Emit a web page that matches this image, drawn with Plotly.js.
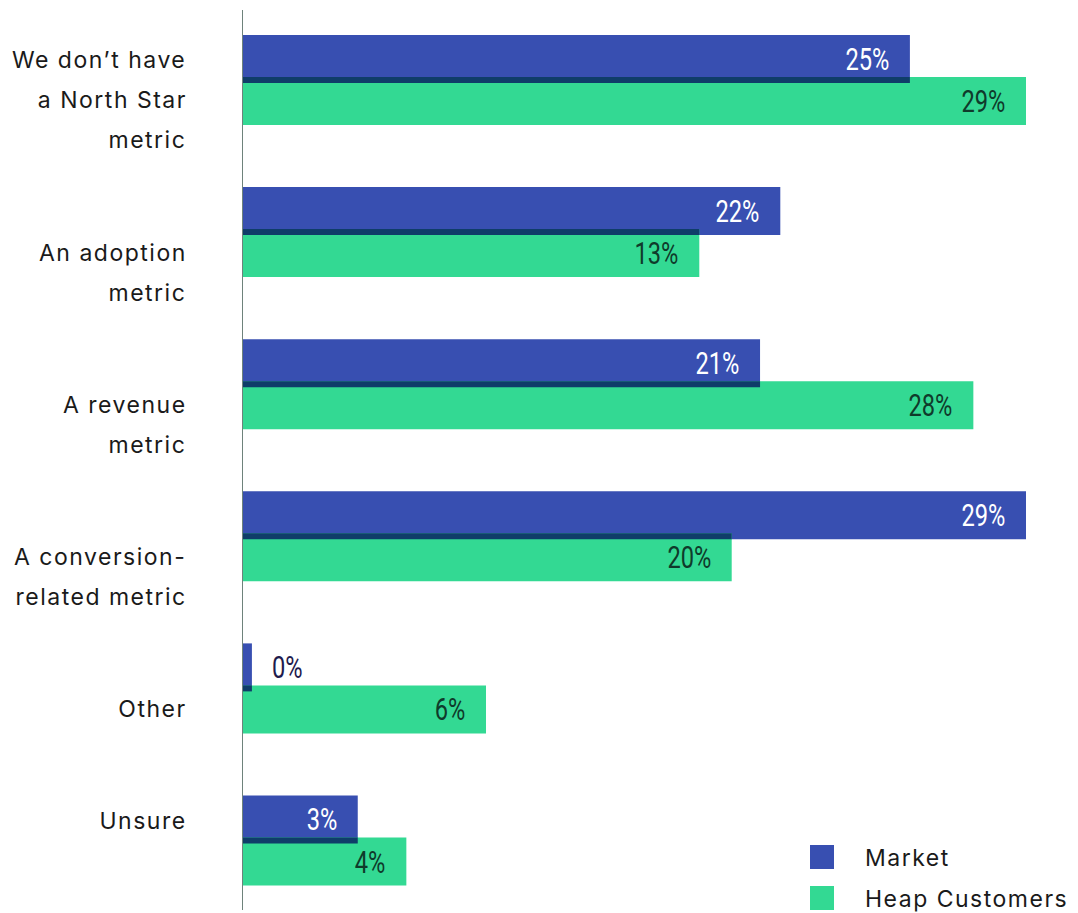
<!DOCTYPE html>
<html>
<head>
<meta charset="utf-8">
<script src="https://cdn.plot.ly/plotly-3.0.1.min.js"></script>
<style>html,body{margin:0;padding:0;background:#fff;}#chart{width:1078px;height:913px;}</style>
</head>
<body>
<div id="chart"></div>
<script>
// ---- data ----
const categories = ["We don’t have<br>a North Star<br>metric", "An adoption<br>metric", "A revenue<br>metric", "A conversion-<br>related metric", "Other", "Unsure"];
const seriesNames = ["Market", "Heap Customers"];
// printed labels (percent)
const marketLabels = [25, 22, 21, 29, 0, 3];
const heapLabels = [29, 13, 28, 20, 6, 4];
// bar lengths as drawn in the picture (same percent scale, 29% = full bar)
const marketBars = [24.7, 19.9, 19.15, 29.0, 0.33, 4.25];
const heapBars = [29.0, 16.9, 27.05, 18.1, 9.0, 6.05];

// ---- style ----
const blue = "#384FB1", green = "#33D993", overlapCol = "#0F3D69";
const pos = categories.map((c, i) => i);
const barW = 0.3156, blueOff = -0.2959, greenOff = -0.0197, ovW = 0.0394;

const overlap = marketBars.map((m, i) => Math.min(m, heapBars[i]));

const traces = [
  {type: "bar", orientation: "h", name: seriesNames[0], y: pos, x: marketBars, width: barW, offset: blueOff,
   marker: {color: blue}, hoverinfo: "skip"},
  {type: "bar", orientation: "h", name: seriesNames[1], y: pos, x: heapBars, width: barW, offset: greenOff,
   marker: {color: green}, hoverinfo: "skip"},
  {type: "bar", orientation: "h", name: "overlap", y: pos, x: overlap, width: ovW, offset: greenOff,
   marker: {color: overlapCol}, hoverinfo: "skip", showlegend: false}
];

const annotations = [];
const meta = [];
const valFont = "Roboto, sans-serif";
function addVal(x, y, lbl, inColor) {
  const outside = lbl === 0;
  annotations.push({x: x, y: y, xref: "x", yref: "y", text: lbl + "%", showarrow: false,
    xanchor: outside ? "left" : "right", yanchor: "middle", xshift: outside ? 18 : -19,
    font: {family: valFont, size: 32, weight: 400, color: outside ? "#1E1B4D" : inColor}});
  meta.push({kind: "val", anchor: outside ? "left" : "right"});
}
pos.forEach(i => {
  addVal(marketBars[i], i + blueOff + barW / 2, marketLabels[i], "#FFFFFF");
  addVal(heapBars[i], i + greenOff + barW / 2, heapLabels[i], "#0F3B2B");
});

// category labels, one annotation per line
const firstLine = [-0.1315, 0.137, 0.137, 0.136, 0.135, -0.128];
const lineStep = 40 / 152.1;
categories.forEach((c, i) => {
  c.split("<br>").forEach((ln, k) => {
    annotations.push({xref: "paper", x: 0, xshift: -56, xanchor: "right", yref: "y",
      y: i + firstLine[i] + k * lineStep, yanchor: "middle", text: ln, showarrow: false,
      font: {family: "Inter, Noto Sans, sans-serif", size: 23, color: "#1A1A1A"}});
    meta.push({kind: "txt", anchor: "right"});
  });
});

// manual legend
const shapes = [];
const legendColors = [blue, green];
seriesNames.forEach((n, k) => {
  const yTop = 845 + k * 41;
  shapes.push({type: "rect", xref: "paper", yref: "paper", x0: (810 - 243) / 783, x1: (834 - 243) / 783,
    y0: 1 - (yTop + 24 - 10) / 900, y1: 1 - (yTop - 10) / 900, fillcolor: legendColors[k], line: {width: 0}});
  annotations.push({xref: "paper", yref: "paper", x: (866 - 243) / 783, xanchor: "left", xshift: -3,
    y: 1 - (yTop + 13 - 10) / 900, yanchor: "middle", text: n, showarrow: false,
    font: {family: "Inter, Noto Sans, sans-serif", size: 23, color: "#1A1A1A"}});
  meta.push({kind: "txt", anchor: "left"});
});

const layout = {
  width: 1078, height: 913,
  margin: {l: 243, r: 52, t: 10, b: 3, pad: 0},
  paper_bgcolor: "#fff", plot_bgcolor: "#fff",
  showlegend: false,
  barmode: "overlay",
  xaxis: {range: [0, 29], showgrid: false, zeroline: false, showticklabels: false, ticks: "", showline: false, fixedrange: true},
  yaxis: {range: [5.457, -0.4602], showgrid: false, zeroline: false, showticklabels: false, ticks: "",
    showline: true, linecolor: "#6E827B", linewidth: 1.5, fixedrange: true},
  annotations: annotations,
  shapes: shapes
};

const gd = document.getElementById("chart");
Plotly.newPlot(gd, traces, layout, {displayModeBar: false, staticPlot: true}).then(() => {
  gd.querySelectorAll("g.annotation").forEach(g => {
    const idx = +g.getAttribute("data-index");
    const info = meta[idx];
    const t = g.querySelector("text.annotation-text");
    if (!info || !t) return;
    const b0 = t.getBBox();
    if (info.kind === "val") {
      const ax = info.anchor === "right" ? b0.x + b0.width : b0.x;
      t.setAttribute("transform", `translate(${ax},0) scale(0.74,1) translate(${-ax},0)`);
    } else {
      t.style.letterSpacing = "1.5px";
      const b1 = t.getBBox();
      const shift = info.anchor === "right" ? (b0.x + b0.width) - (b1.x + b1.width) + 1.5 : b0.x - b1.x;
      t.setAttribute("transform", `translate(${shift},0)`);
    }
  });
});
</script>
</body>
</html>
